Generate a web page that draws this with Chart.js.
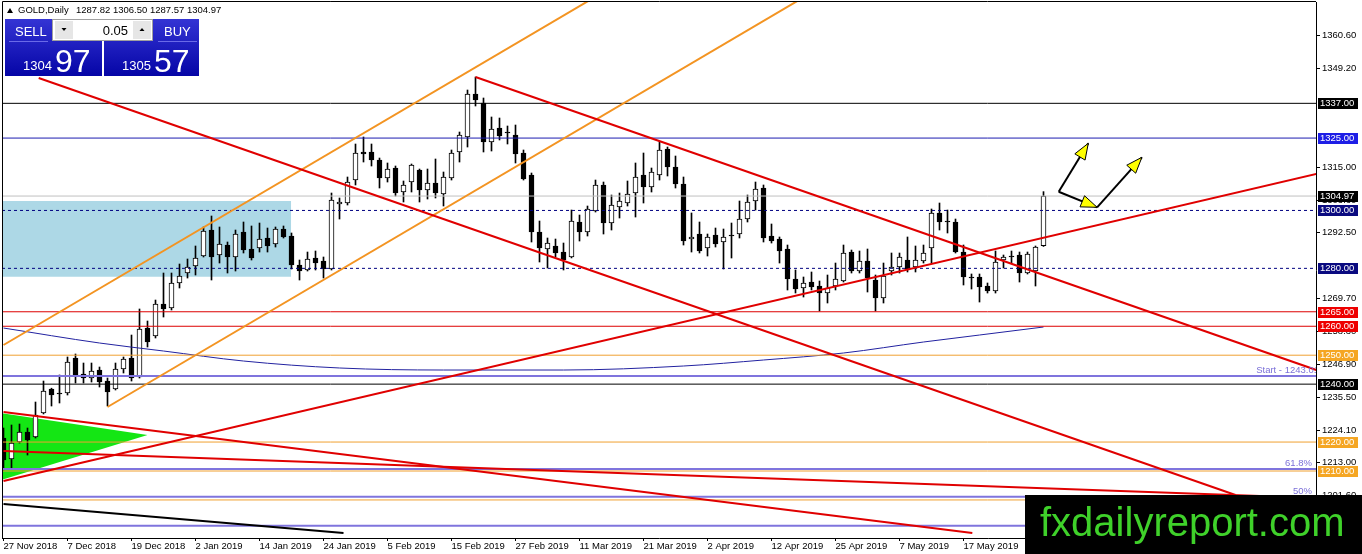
<!DOCTYPE html>
<html>
<head>
<meta charset="utf-8">
<script src="https://cdn.jsdelivr.net/npm/chart.js@4.4.1/dist/chart.umd.min.js"></script>
<style>
html,body{margin:0;padding:0;background:#fff;overflow:hidden}
</style>
</head>
<body>
<canvas id="chart" width="1362" height="554"></canvas>
<script>
// GOLD daily candles, bar 0 = 27 Nov 2018, bar 130 = 31 May 2019
const dateLabels = ['27 Nov 2018','7 Dec 2018','19 Dec 2018','2 Jan 2019','14 Jan 2019','24 Jan 2019','5 Feb 2019','15 Feb 2019','27 Feb 2019','11 Mar 2019','21 Mar 2019','2 Apr 2019','12 Apr 2019','25 Apr 2019','7 May 2019','17 May 2019'];
const dateBars = [0,8,16,24,32,40,48,56,64,72,80,88,96,104,112,120];

const opens = [1221.40,1214.14,1220.02,1223.47,1221.74,1230.03,1238.32,1236.94,1236.94,1249.03, 1243.50,1242.12,1244.88,1241.08,1238.32,1245.23,1249.03,1242.47,1259.39,1256.63, 1267.68,1266.30,1274.94,1278.39,1280.81,1284.26,1293.24,1284.61,1288.06,1283.92, 1292.55,1286.68,1287.03,1290.48,1288.41,1293.59,1291.17,1281.15,1279.43,1283.57, 1282.54,1279.77,1302.22,1302.57,1310.51,1320.19,1320.19,1317.42,1311.21,1314.66, 1306.37,1309.82,1313.97,1307.06,1309.48,1305.68,1311.21,1320.19,1325.37,1340.22, 1337.11,1323.64,1328.48,1327.09,1326.06,1319.84,1312.24,1292.55,1286.68,1287.72, 1285.64,1283.92,1296.01,1292.55,1299.81,1308.79,1295.66,1301.19,1302.57,1306.02, 1312.24,1308.10,1312.24,1321.22,1315.00,1309.13,1290.13,1291.86,1287.03,1291.52, 1289.10,1291.52,1291.86,1297.04,1303.26,1307.75,1291.17,1290.13,1286.68,1276.32, 1273.21,1275.28,1273.90,1271.48,1273.90,1275.63,1285.64,1279.08,1282.54,1275.97, 1269.76,1279.08,1280.46,1282.88,1280.46,1282.54,1287.03,1299.12,1296.35,1296.01, 1285.64,1277.01,1277.01,1273.90,1272.17,1282.88,1284.26,1284.61,1278.39,1279.08, 1287.82];
const highs = [1224.85,1225.89,1226.23,1224.85,1233.83,1241.08,1238.60,1243.16,1249.38,1250.41, 1247.30,1247.30,1245.92,1242.12,1247.30,1249.38,1256.97,1265.96,1261.81,1269.06, 1278.39,1278.39,1281.50,1283.23,1287.72,1294.28,1298.08,1294.28,1289.10,1293.24, 1296.01,1294.63,1295.66,1293.93,1294.28,1294.63,1292.21,1282.88,1285.64,1285.99, 1283.92,1306.02,1304.30,1311.55,1322.95,1325.37,1322.95,1318.11,1316.39,1315.35, 1310.17,1316.04,1314.31,1314.31,1317.77,1313.28,1320.88,1327.09,1341.60,1346.09, 1338.84,1332.28,1331.93,1329.17,1329.51,1320.88,1312.93,1296.35,1290.48,1290.13, 1288.75,1300.15,1298.42,1301.53,1310.51,1309.82,1305.33,1306.02,1310.17,1316.39, 1319.84,1314.66,1323.64,1321.91,1318.80,1311.55,1299.12,1296.01,1291.86,1293.93, 1293.59,1295.66,1303.26,1305.33,1309.82,1308.79,1295.32,1290.83,1288.06,1279.43, 1277.01,1278.74,1275.63,1277.70,1281.84,1288.06,1286.33,1285.99,1286.68,1277.70, 1281.84,1285.30,1285.30,1290.83,1287.72,1288.06,1300.50,1302.57,1300.15,1297.04, 1288.06,1278.05,1278.05,1274.94,1285.99,1284.61,1285.99,1285.64,1285.64,1287.72, 1306.50];
const lows = [1210.34,1211.03,1219.67,1215.52,1221.40,1229.70,1232.45,1233.49,1236.25,1240.39, 1240.39,1240.74,1239.01,1232.45,1237.98,1243.85,1241.08,1242.12,1252.83,1255.94, 1263.19,1265.61,1273.21,1276.66,1277.70,1283.92,1275.97,1281.84,1278.39,1279.08, 1285.30,1282.88,1285.64,1285.64,1287.37,1290.48,1279.77,1275.97,1279.08,1279.43, 1276.66,1279.43,1297.04,1301.88,1308.79,1316.73,1315.35,1307.75,1309.82,1304.99, 1302.92,1306.37,1302.92,1303.95,1304.30,1301.53,1310.51,1316.73,1321.91,1336.08, 1320.19,1320.53,1324.33,1322.95,1316.39,1310.51,1289.10,1282.19,1280.12,1283.92, 1279.43,1283.60,1289.44,1291.17,1299.46,1291.86,1293.24,1297.39,1301.53,1297.73, 1302.57,1306.37,1310.51,1311.90,1307.75,1288.06,1285.64,1285.30,1284.26,1287.37, 1279.77,1283.57,1290.48,1296.01,1300.15,1289.10,1288.75,1281.84,1272.52,1271.48, 1270.10,1272.52,1265.26,1268.03,1272.52,1275.28,1278.39,1278.39,1271.83,1265.26, 1268.03,1277.70,1278.39,1278.74,1278.74,1281.84,1281.84,1293.24,1292.21,1285.30, 1274.25,1272.86,1268.37,1271.48,1271.48,1280.12,1281.84,1275.28,1278.05,1273.90, 1287.57];
const closes = [1213.80,1219.67,1223.47,1220.71,1229.34,1237.63,1236.25,1236.59,1247.65,1243.16, 1242.12,1244.54,1240.74,1237.29,1245.23,1248.68,1242.12,1259.05,1254.56,1267.68, 1265.96,1274.94,1277.35,1280.46,1283.57,1292.90,1283.92,1288.41,1283.92,1291.86, 1286.33,1283.57,1290.13,1287.72,1293.59,1290.83,1281.15,1279.08,1283.23,1281.84, 1279.77,1303.61,1302.92,1309.82,1319.84,1319.50,1317.42,1311.21,1314.31,1306.02, 1308.79,1315.70,1307.06,1309.48,1306.02,1311.55,1319.84,1326.06,1340.22,1338.15, 1323.64,1328.13,1325.71,1326.75,1319.50,1310.86,1292.55,1287.03,1288.75,1285.30, 1282.88,1296.35,1292.55,1300.50,1308.79,1295.66,1301.88,1303.26,1305.68,1311.55, 1308.10,1313.28,1320.88,1315.00,1309.13,1289.44,1290.83,1285.99,1290.83,1288.41, 1290.83,1291.17,1297.04,1302.92,1307.41,1290.48,1289.44,1285.99,1276.32,1272.86, 1274.94,1273.55,1271.48,1273.21,1276.32,1285.30,1279.08,1282.54,1276.66,1269.76, 1277.35,1280.46,1283.92,1279.77,1282.88,1285.30,1299.12,1296.01,1296.01,1285.64, 1277.01,1276.66,1273.55,1272.17,1282.19,1283.92,1283.92,1278.39,1284.95,1287.37, 1304.97];

// moving average read at a few bars
const maBars = [0,12,20,30,42,55,70,85,95,105,115,122,130];
const maValues = [1259.39,1254.21,1251.45,1247.99,1245.58,1244.88,1244.88,1246.27,1248.34,1250.76,1254.56,1256.97,1259.74];

const priceTicks = [1360.6,1349.2,1315.0,1303.6,1292.5,1269.7,1258.3,1246.9,1235.5,1224.1,1213.0,1201.6];

// horizontal levels
const levelValues = [1337, 1325, 1300, 1280, 1265, 1260, 1250, 1240, 1220, 1210, 1200];
const levelColors = ['#000000','#1c1cb0','#000080','#000080','#dd0000','#dd0000','#f0a030','#000000','#f0a030','#f0a030','#f0a030'];
const levelTagColors = ['#000000','#1e1ee6','#0a0a80','#0a0a80','#ee0000','#ee0000','#f5a623','#000000','#f5a623','#f5a623','#f5a623'];
const levelDashed = [false,false,true,true,false,false,false,false,false,false,false];
const lastPrice = 1304.97;

const fibValues = [1242.81, 1210.69, 1201.12, 1191.10];
const fibTexts = ['Start - 1243.01', '61.8%', '50%', ''];

// drawn objects, [bar, price] pairs
const redLines = [
  [[4.4, 1345.75], [154.0, 1201.71]],
  [[59.0, 1346.09], [164.1, 1244.88]],
  [[0, 1206.54], [164.1, 1312.59]],
  [[0, 1230.38], [121.1, 1188.58]],
  [[0, 1216.91], [164.1, 1200.67]]
];
const orangeLines = [
  [[0, 1253.52], [80, 1383.57]],
  [[13, 1232.11], [100, 1373.59]]
];
const blackLines = [
  [[0, 1198.60], [42.5, 1188.58]]
];
const rectBars = [-0.3, 35.96];
const rectPrices = [1303.26, 1277.11];
const triBars = [-0.3, 18];
const triPrices = [1230.03, 1206.89, 1222.43];
const arrows = [
  [[131.9, 1306.47], [135.6, 1323.19]],
  [[131.9, 1306.47], [136.7, 1301.08]],
  [[136.7, 1301.08], [142.3, 1318.36]]
];

const xMin = -0.1875, xMax = 164.0625;
const bars = opens.map((_, i) => i);

function lineSet(points, color, width, dash, order) {
  return {
    type: 'line',
    data: points.map(([x, y]) => ({x, y})),
    borderColor: color,
    borderWidth: width,
    borderDash: dash || [],
    pointRadius: 0,
    fill: false,
    tension: 0,
    order
  };
}

const datasets = [];
redLines.forEach(l => datasets.push(lineSet(l, '#e00000', 2, null, 1)));
orangeLines.forEach(l => datasets.push(lineSet(l, '#f39422', 2, null, 1)));
blackLines.forEach(l => datasets.push(lineSet(l, '#000000', 2, null, 1)));
levelValues.forEach((v, i) => datasets.push(lineSet([[xMin, v], [xMax, v]], levelColors[i], 1, levelDashed[i] ? [3, 3] : null, 2)));
datasets.push(lineSet([[xMin, lastPrice], [xMax, lastPrice]], '#c0c0c0', 1, null, 2));
fibValues.forEach(v => datasets.push(lineSet([[xMin, v], [xMax, v]], '#7f74dd', 2, null, 2)));

const ma = lineSet(maBars.map((b, i) => [b, maValues[i]]), '#2222a0', 1, null, 2);
ma.tension = 0.4;
ma.cubicInterpolationMode = 'monotone';
datasets.push(ma);

// candles
datasets.push({
  type: 'bar',
  data: bars.map(i => ({x: i, y: [opens[i], closes[i]]})),
  backgroundColor: bars.map(i => closes[i] >= opens[i] ? '#ffffff' : '#000000'),
  borderColor: '#000000',
  borderWidth: 1,
  borderSkipped: false,
  barThickness: 5,
  minBarLength: 1,
  grouped: false,
  order: 4
});
datasets.push({
  type: 'bar',
  data: bars.map(i => ({x: i, y: [lows[i], highs[i]]})),
  backgroundColor: '#000000',
  barThickness: 1,
  grouped: false,
  order: 5
});

// rectangle and triangle as filled areas
const rectTop = lineSet([[rectBars[0], rectPrices[0]], [rectBars[1], rectPrices[0]]], 'rgba(0,0,0,0)', 0, null, 10);
rectTop.fill = '+1';
rectTop.backgroundColor = '#add8e6';
datasets.push(rectTop);
datasets.push(lineSet([[rectBars[0], rectPrices[1]], [rectBars[1], rectPrices[1]]], 'rgba(0,0,0,0)', 0, null, 11));
const triTop = lineSet([[triBars[0], triPrices[0]], [triBars[1], triPrices[2]]], 'rgba(0,0,0,0)', 0, null, 8);
triTop.fill = '+1';
triTop.backgroundColor = '#14e614';
datasets.push(triTop);
datasets.push(lineSet([[triBars[0], triPrices[1]], [triBars[1], triPrices[2]]], 'rgba(0,0,0,0)', 0, null, 9));

const FONT = '"Liberation Sans", Arial, sans-serif';

function drawArrow(ctx, x, y, a, b) {
  const x1 = x.getPixelForValue(a[0]), y1 = y.getPixelForValue(a[1]);
  const x2 = x.getPixelForValue(b[0]), y2 = y.getPixelForValue(b[1]);
  ctx.strokeStyle = '#000';
  ctx.lineWidth = 2;
  ctx.beginPath(); ctx.moveTo(x1, y1); ctx.lineTo(x2, y2); ctx.stroke();
  const ang = Math.atan2(y2 - y1, x2 - x1);
  const len = 16, half = 6;
  const bx = x2 - Math.cos(ang) * len, by = y2 - Math.sin(ang) * len;
  ctx.beginPath();
  ctx.moveTo(x2, y2);
  ctx.lineTo(bx + Math.sin(ang) * half, by - Math.cos(ang) * half);
  ctx.lineTo(bx - Math.sin(ang) * half, by + Math.cos(ang) * half);
  ctx.closePath();
  ctx.fillStyle = '#ffff00';
  ctx.fill();
  ctx.lineWidth = 1;
  ctx.stroke();
}

function tradeBox(ctx, left, w, word, big, small, wordX) {
  const g = ctx.createLinearGradient(0, 19, 0, 76);
  g.addColorStop(0, '#3434d4');
  g.addColorStop(1, '#0505a6');
  ctx.fillStyle = g;
  ctx.fillRect(left, 19, w, 57);
  ctx.strokeStyle = '#6a6ae8';
  ctx.lineWidth = 1;
  ctx.beginPath(); ctx.moveTo(wordX - 6, 41.5); ctx.lineTo(wordX + 33, 41.5); ctx.stroke();
  ctx.fillStyle = '#fff';
  ctx.textBaseline = 'alphabetic';
  ctx.textAlign = 'left';
  ctx.font = '13px ' + FONT;
  ctx.fillText(word, wordX, 36);
  ctx.font = '13px ' + FONT;
  ctx.fillText(small, left + 18, 70);
  ctx.font = '32px ' + FONT;
  ctx.fillText(big, left + 50, 72);
}

const overlay = {
  id: 'overlay',
  afterDraw(chart) {
    const {ctx, chartArea: a, scales: {x, y}} = chart;
    ctx.save();

    // frame left/top
    ctx.strokeStyle = '#000';
    ctx.lineWidth = 1;
    ctx.beginPath();
    ctx.moveTo(2.5, a.bottom); ctx.lineTo(2.5, 1.5); ctx.lineTo(a.right, 1.5);
    ctx.stroke();

    // arrows and fib texts, clipped to plot
    ctx.save();
    ctx.beginPath();
    ctx.rect(a.left, a.top, a.right - a.left, a.bottom - a.top);
    ctx.clip();
    arrows.forEach(([p, q]) => drawArrow(ctx, x, y, p, q));
    ctx.font = '9.5px ' + FONT;
    ctx.fillStyle = '#7b70d8';
    ctx.textBaseline = 'alphabetic';
    ctx.textAlign = 'right';
    fibValues.forEach((v, i) => {
      if (!fibTexts[i]) return;
      const py = y.getPixelForValue(v) - 3;
      ctx.fillText(fibTexts[i], i === 0 ? a.right + 3 : a.right - 4, py);
    });
    ctx.restore();

    // price tags on the axis
    ctx.font = '9.5px ' + FONT;
    ctx.textBaseline = 'middle';
    ctx.textAlign = 'left';
    const tags = levelValues.map((v, i) => [v, levelTagColors[i]]);
    tags.push([lastPrice, '#000000']);
    tags.forEach(([v, c]) => {
      const py = Math.round(y.getPixelForValue(v));
      ctx.fillStyle = c;
      ctx.fillRect(a.right + 2, py - 5, 40, 11);
      ctx.fillStyle = '#fff';
      ctx.fillText(v.toFixed(2), a.right + 4, py + 0.5);
    });

    // title
    ctx.fillStyle = '#000';
    ctx.beginPath(); ctx.moveTo(7, 13); ctx.lineTo(13, 13); ctx.lineTo(10, 8); ctx.closePath(); ctx.fill();
    ctx.font = '9.5px ' + FONT;
    ctx.textBaseline = 'middle';
    ctx.fillText('GOLD,Daily', 18, 10);
    ctx.fillText('1287.82 1306.50 1287.57 1304.97', 76, 10);

    // one-click trading panel
    tradeBox(ctx, 5, 97, 'SELL', '97', '1304', 15);
    tradeBox(ctx, 104, 95, 'BUY', '57', '1305', 164);
    ctx.fillStyle = '#ffffff';
    ctx.fillRect(52, 19, 101, 22);
    ctx.strokeStyle = '#a0a0a0';
    ctx.strokeRect(52.5, 19.5, 100, 21);
    ctx.fillStyle = '#e6e6e6';
    ctx.fillRect(55, 21, 18, 18);
    ctx.fillRect(133, 21, 18, 18);
    ctx.fillStyle = '#000';
    ctx.beginPath(); ctx.moveTo(61.5, 28); ctx.lineTo(66.5, 28); ctx.lineTo(64, 31); ctx.closePath(); ctx.fill();
    ctx.beginPath(); ctx.moveTo(139.5, 31); ctx.lineTo(144.5, 31); ctx.lineTo(142, 28); ctx.closePath(); ctx.fill();
    ctx.font = '13px ' + FONT;
    ctx.textAlign = 'right';
    ctx.textBaseline = 'alphabetic';
    ctx.fillText('0.05', 128, 35);

    // watermark
    ctx.fillStyle = '#000';
    ctx.fillRect(1025, 495, 337, 59);
    ctx.fillStyle = '#3fd12a';
    ctx.font = '40px ' + FONT;
    ctx.textAlign = 'left';
    ctx.fillText('fxdailyreport.com', 1040, 536);
    ctx.restore();
  }
};

Chart.defaults.font.family = FONT;
Chart.defaults.font.size = 9.5;
Chart.defaults.color = '#000';

new Chart(document.getElementById('chart'), {
  type: 'bar',
  data: {datasets},
  options: {
    responsive: false,
    devicePixelRatio: 1,
    animation: false,
    events: [],
    layout: {padding: {left: 2, top: 2, right: 0, bottom: 0}},
    plugins: {legend: {display: false}, tooltip: {enabled: false}},
    scales: {
      x: {
        type: 'linear',
        min: xMin,
        max: xMax,
        offset: false,
        grid: {display: true, drawOnChartArea: false, drawTicks: true, tickLength: 3, color: '#000', offset: false},
        border: {display: true, color: '#000'},
        ticks: {
          align: 'start',
          autoSkip: false,
          maxRotation: 0,
          padding: 0,
          callback: (v, i) => dateLabels[i]
        },
        afterBuildTicks: s => { s.ticks = dateBars.map(v => ({value: v})); },
        afterFit: s => { s.height = 16; s.paddingLeft = 0; s.paddingRight = 0; }
      },
      y: {
        position: 'right',
        min: 1186.86,
        max: 1372.0,
        grid: {display: true, drawOnChartArea: false, drawTicks: true, tickLength: 4, color: '#000'},
        border: {display: true, color: '#000'},
        ticks: {
          autoSkip: false,
          padding: 2,
          callback: v => Number(v).toFixed(2)
        },
        afterBuildTicks: s => { s.ticks = priceTicks.map(v => ({value: v})); },
        afterFit: s => { s.width = 46; s.paddingTop = 0; s.paddingBottom = 0; }
      }
    }
  },
  plugins: [overlay]
});
</script>
</body>
</html>
